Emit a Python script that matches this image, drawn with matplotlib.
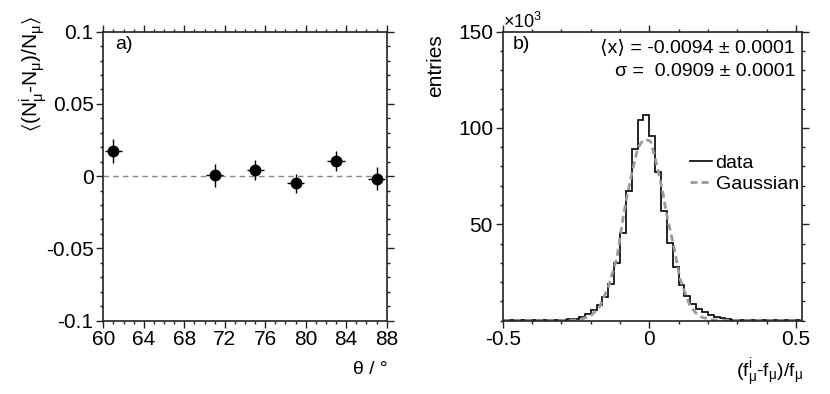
import matplotlib
matplotlib.use("Agg")
import matplotlib.pyplot as plt
import numpy as np
from matplotlib.ticker import MultipleLocator

plt.rcParams['font.family'] = ['Liberation Sans', 'DejaVu Sans']
plt.rcParams['mathtext.fontset'] = 'custom'
plt.rcParams['mathtext.rm'] = 'Liberation Sans'
plt.rcParams['mathtext.it'] = 'Liberation Sans'
plt.rcParams['mathtext.bf'] = 'Liberation Sans:bold'
plt.rcParams['mathtext.fallback'] = 'stixsans'

# panel a) data
theta = [61, 71, 75, 79, 83, 87]
ratio = [0.0174, 0.0005, 0.0042, -0.0048, 0.0104, -0.0018]
ratio_err = [0.0080, 0.0080, 0.0072, 0.0066, 0.0072, 0.0080]
theta_err = [0.85, 0.85, 0.85, 0.85, 0.85, 0.85]

# panel b) histogram, bins of 0.02 from -0.5 to 0.52 (entries x 10^3)
bin_edges = np.round(np.arange(-0.50, 0.5201, 0.02), 3)
counts_left = [0.05, 0.05, 0.08, 0.1, 0.12, 0.15, 0.2, 0.25, 0.3, 0.4,
               0.5, 0.7, 0.9, 1.9, 3.3, 5.6, 8.0, 12.0, 19.0, 29.9,
               45.5, 67.2, 89.1, 103.9, 106.5]
counts_right = [95.7, 77.1, 57.1, 40.3, 27.6, 18.6, 12.5, 8.5, 6.1, 4.2,
                2.8, 1.9, 1.2, 0.7, 0.5, 0.4, 0.3, 0.25, 0.2, 0.15,
                0.12, 0.1, 0.08, 0.05, 0.05, 0.05]
counts = counts_left + counts_right

# gaussian curve
gauss_x = [-0.50, -0.30, -0.24, -0.20, -0.17, -0.14, -0.11, -0.089, -0.079,
           -0.068, -0.060, -0.049, -0.040, -0.026, -0.010, 0.005, 0.018,
           0.035, 0.047, 0.061, 0.082, 0.105, 0.139, 0.16, 0.18, 0.22,
           0.30, 0.52]
gauss_y = [0.0, 0.0, 0.3, 2.4, 7.0, 17.2, 32.8, 53.6, 62.3,
           70.2, 76.2, 83.2, 89.3, 92.7, 94.0, 93.0, 85.5,
           74.5, 65.8, 53.6, 39.8, 21.6, 7.5, 3.8, 1.6, 0.3,
           0.0, 0.0]

fig = plt.figure(figsize=(8.3, 3.94), dpi=100)
ax1 = fig.add_axes([0.1245, 0.1865, 0.3414, 0.733])
ax2 = fig.add_axes([0.6057, 0.1865, 0.3602, 0.733])

frame = '#222222'
for ax in (ax1, ax2):
    for s in ax.spines.values():
        s.set_color(frame)
        s.set_linewidth(1.2)
    ax.tick_params(which='both', direction='out', top=True, right=True,
                   labelsize=15, color=frame, width=1.0, pad=2)
    ax.tick_params(which='major', length=5)
    ax.tick_params(which='minor', length=2.5)

# panel a)
ax1.axhline(0, color='#888888', linestyle=(0, (4, 3)), linewidth=1)
ax1.errorbar(theta, ratio, yerr=ratio_err, xerr=theta_err, fmt='o',
             color='black', markersize=7.5, elinewidth=1.0, capsize=0)
ax1.set_xlim(60, 88)
ax1.set_ylim(-0.1, 0.1)
ax1.xaxis.set_major_locator(MultipleLocator(4))
ax1.xaxis.set_minor_locator(MultipleLocator(1))
ax1.yaxis.set_major_locator(MultipleLocator(0.05))
ax1.yaxis.set_minor_locator(MultipleLocator(0.01))
ax1.yaxis.set_major_formatter(plt.FuncFormatter(
    lambda v, p: '0' if abs(v) < 1e-9 else ('%g' % v)))
ax1.text(0.041, 0.957, 'a)', transform=ax1.transAxes, fontsize=14,
         ha='left', va='center')
ax1.text(-0.248, 0.853,
         r'$\langle$(N$^{i}_{\mu}$-N$_{\mu}$)/N$_{\mu}\rangle$',
         transform=ax1.transAxes, rotation=90, fontsize=15,
         ha='center', va='center')
ax1.text(1.005, -0.171, 'θ / °', transform=ax1.transAxes, fontsize=14,
         ha='right', va='center')

# panel b)
ax2.stairs(counts, bin_edges, color='black', linewidth=1.2, label='data')
ax2.plot(gauss_x, gauss_y, color='#9a9a9a', linestyle=(0, (2.5, 1.5)),
         linewidth=2, label='Gaussian')
ax2.set_xlim(-0.5, 0.52)
ax2.set_ylim(0, 150)
ax2.set_xticks([-0.5, 0, 0.5])
ax2.set_xticklabels(['-0.5', '0', '0.5'])
ax2.xaxis.set_minor_locator(MultipleLocator(0.1))
ax2.set_yticks([50, 100, 150])
ax2.yaxis.set_minor_locator(MultipleLocator(10))
ax2.text(0.0, 1.0, r'$\times10^{3}$', transform=ax2.transAxes, fontsize=13,
         ha='left', va='bottom')
ax2.text(0.034, 0.957, 'b)', transform=ax2.transAxes, fontsize=14,
         ha='left', va='center')
ax2.text(0.978, 0.944, '⟨x⟩ = -0.0094 ± 0.0001', transform=ax2.transAxes,
         fontsize=14, ha='right', va='center')
ax2.text(0.978, 0.862, 'σ =  0.0909 ± 0.0001', transform=ax2.transAxes,
         fontsize=14, ha='right', va='center')
ax2.text(-0.225, 0.99, 'entries', transform=ax2.transAxes, rotation=90,
         fontsize=15, ha='center', va='top')
ax2.text(1.005, -0.182, r'(f$^{i}_{\mu}$-f$_{\mu}$)/f$_{\mu}$',
         transform=ax2.transAxes, fontsize=14, ha='right', va='center')
ax2.legend(loc='upper right', bbox_to_anchor=(0.99, 0.575), frameon=False,
           fontsize=14, handlelength=1.1, handletextpad=0.2,
           labelspacing=0.15, borderaxespad=0, borderpad=0)

fig.savefig('out.png', dpi=100)
